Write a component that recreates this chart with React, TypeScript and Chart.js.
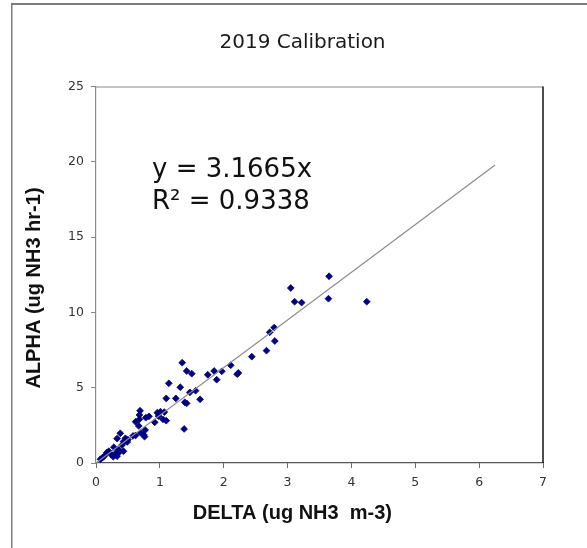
import React, { useEffect, useRef } from "react";
import { Chart, registerables } from "chart.js";

Chart.register(...registerables);

// ---- data ----
const deltaX = [
  0.07, 0.1, 0.13, 0.17, 0.2, 0.24, 0.27, 0.28, 0.31, 0.33, 0.35, 0.36, 0.33, 0.38, 0.41, 0.43, 0.43, 0.46,
  0.49, 0.5, 0.58, 0.62, 0.62, 0.67, 0.7, 0.75, 0.76, 0.77, 0.69, 0.68, 0.68, 0.78, 0.83, 0.92, 0.96, 0.98,
  1.01, 1.05, 1.1, 1.07, 1.1, 1.14, 1.25, 1.32, 1.35, 1.42, 1.5, 1.47, 1.56, 1.63, 1.39, 1.42, 1.38, 1.75,
  1.85, 1.89, 1.97, 2.11, 2.21, 2.23, 2.44, 2.67, 2.72, 2.79, 2.8, 3.05, 3.11, 3.22, 3.65, 3.64, 4.24,
];
const alphaY = [
  0.25, 0.35, 0.46, 0.7, 0.78, 0.55, 0.42, 1.05, 0.65, 0.45, 0.92, 0.7, 1.62, 1.97, 1.2, 0.78, 1.42, 1.64,
  1.4, 1.55, 1.8, 1.83, 2.74, 2.46, 2.0, 1.86, 1.75, 2.19, 3.47, 3.19, 2.9, 3.01, 3.1, 2.7, 3.34, 3.12,
  3.41, 2.9, 2.81, 3.38, 4.29, 5.29, 4.29, 5.03, 6.66, 6.11, 5.93, 4.69, 4.8, 4.23, 4.03, 3.96, 2.26, 5.86,
  6.11, 5.53, 6.09, 6.49, 5.9, 5.98, 7.06, 7.46, 8.68, 8.99, 8.1, 11.62, 10.71, 10.65, 12.4, 10.91, 10.71,
];
const trendX = [0, 6.25];
const trendY = [0, 19.79];

const X_MIN = 0;
const X_MAX = 7;
const X_STEP = 1;
const Y_MIN = 0;
const Y_MAX = 25;
const Y_STEP = 5;

const TITLE = "2019 Calibration";
const EQ_LINE1 = "y = 3.1665x";
const EQ_LINE2 = "R\u00B2 = 0.9338";
const X_TITLE = "DELTA (ug NH3  m-3)";
const Y_TITLE = "ALPHA (ug NH3 hr-1)";

const W = 587;
const H = 548;

const decorPlugin = {
  id: "decor",
  beforeDraw(chart: any) {
    const ctx = chart.ctx as CanvasRenderingContext2D;
    ctx.save();
    ctx.fillStyle = "#ffffff";
    ctx.fillRect(0, 0, chart.width, chart.height);
    // outer frame (top + left)
    ctx.fillStyle = "#7d7d7d";
    ctx.fillRect(11, 3, chart.width - 11, 2);
    ctx.fillRect(11, 3, 1.5, chart.height - 3);
    ctx.restore();
  },
  beforeDatasetsDraw(chart: any) {
    const ctx = chart.ctx as CanvasRenderingContext2D;
    const a = chart.chartArea;
    ctx.save();
    ctx.lineWidth = 1;
    ctx.strokeStyle = "#8a8a8a";
    ctx.beginPath();
    ctx.moveTo(a.left, a.top + 0.5);
    ctx.lineTo(a.right, a.top + 0.5);
    ctx.stroke();
    ctx.strokeStyle = "#111111";
    ctx.lineWidth = 1.5;
    ctx.beginPath();
    ctx.moveTo(a.right, a.top);
    ctx.lineTo(a.right, a.bottom);
    ctx.stroke();
    ctx.restore();
  },
  afterDraw(chart: any) {
    const ctx = chart.ctx as CanvasRenderingContext2D;
    ctx.save();
    ctx.fillStyle = "#1a1a1a";
    // chart title
    ctx.font = '20px "DejaVu Sans"';
    ctx.textAlign = "center";
    ctx.textBaseline = "alphabetic";
    ctx.fillText(TITLE, 302.5, 47.5);
    // trendline equation
    ctx.fillStyle = "#111111";
    ctx.font = '26px "DejaVu Sans"';
    ctx.textAlign = "left";
    ctx.fillText(EQ_LINE1, 152, 177);
    ctx.fillText(EQ_LINE2, 152, 208.5);
    // axis titles
    ctx.font = 'bold 20px "Liberation Sans"';
    ctx.textAlign = "center";
    ctx.fillText(X_TITLE, 292.4, 519.3);
    ctx.translate(39.5, 288);
    ctx.rotate(-Math.PI / 2);
    ctx.fillText(Y_TITLE, 0, 0);
    ctx.restore();
  },
};

export default function App() {
  const canvasRef = useRef<HTMLCanvasElement | null>(null);

  useEffect(() => {
    const canvas = canvasRef.current;
    if (!canvas) return;
    const points = deltaX.map((x, i) => ({ x, y: alphaY[i] }));
    const trend = trendX.map((x, i) => ({ x, y: trendY[i] }));
    const tickFont = { family: '"DejaVu Sans"', size: 12.5 };
    const chart = new Chart(canvas, {
      type: "scatter",
      data: {
        datasets: [
          {
            type: "line",
            label: "Trend",
            data: trend,
            borderColor: "#8c8c8c",
            borderWidth: 1.2,
            pointRadius: 0,
            fill: false,
            order: 0,
          } as any,
          {
            label: "ALPHA vs DELTA",
            data: points,
            pointStyle: "rectRot",
            pointRadius: 3.4,
            pointBorderWidth: 0.8,
            backgroundColor: "#000080",
            borderColor: "#000080",
            order: 1,
          } as any,
        ],
      },
      options: {
        responsive: false,
        animation: false,
        devicePixelRatio: 1,
        layout: { padding: { left: 0, top: 86.5, right: 44, bottom: 0 } },
        plugins: {
          legend: { display: false },
          title: { display: false },
          tooltip: { enabled: false },
        },
        scales: {
          x: {
            type: "linear",
            min: X_MIN,
            max: X_MAX,
            afterFit(scale: any) {
              scale.height = H - 463;
            },
            ticks: { stepSize: X_STEP, font: tickFont, color: "#333333", padding: 7 },
            grid: {
              drawOnChartArea: false,
              drawTicks: true,
              tickLength: 5,
              tickColor: "#666666",
            },
            border: { display: true, color: "#555555", width: 1.2 },
          },
          y: {
            type: "linear",
            min: Y_MIN,
            max: Y_MAX,
            afterFit(scale: any) {
              scale.width = 96;
            },
            ticks: { stepSize: Y_STEP, font: tickFont, color: "#333333", padding: 7 },
            grid: {
              drawOnChartArea: false,
              drawTicks: true,
              tickLength: 5,
              tickColor: "#888888",
            },
            border: { display: true, color: "#8a8a8a", width: 1.2 },
          },
        },
      } as any,
      plugins: [decorPlugin],
    });
    return () => chart.destroy();
  }, []);

  return (
    <div style={{ position: "absolute", left: 0, top: 0, width: W, height: H, background: "#fff" }}>
      <canvas ref={canvasRef} width={W} height={H} style={{ display: "block", width: W, height: H }} />
    </div>
  );
}
